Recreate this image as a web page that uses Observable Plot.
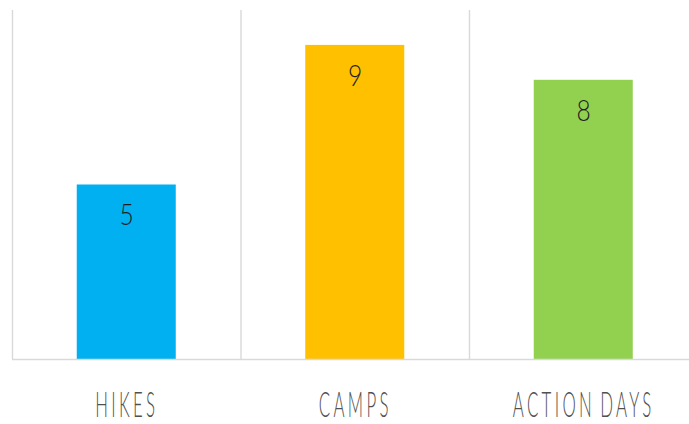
<!DOCTYPE html>
<html>
<head>
<meta charset="utf-8">
<script src="https://cdn.jsdelivr.net/npm/d3@7"></script>
<script src="https://cdn.jsdelivr.net/npm/@observablehq/plot@0.6"></script>
<style>
  html, body { margin: 0; padding: 0; background: #fff; overflow: hidden; }
  #chart svg { display: block; max-width: none !important; }
</style>
</head>
<body>
<div id="chart"></div>
<script>
const categories = ["HIKES", "CAMPS", "ACTION DAYS"];
const values = [5, 9, 8];
const colors = ["#00B0F0", "#FFC000", "#92D050"];
const boundaries = [0, 1, 2, 3];

const data = categories.map((c, i) => ({ i, category: c, value: values[i], color: colors[i] }));

const plot = Plot.plot({
  width: 698,
  height: 424,
  marginLeft: 12,
  marginRight: 0.5,
  marginTop: 10,
  marginBottom: 65,
  style: { background: "#fff", overflow: "visible", maxWidth: "none" },
  x: { type: "linear", domain: [0, 3], axis: null },
  y: { domain: [0, 10], axis: null },
  marks: [
    Plot.ruleX(boundaries, { stroke: "#d9d9d9", strokeWidth: 1.4 }),
    Plot.rectY(data, {
      x1: "i",
      x2: d => d.i + 1,
      y1: 0,
      y2: "value",
      fill: "color",
      insetLeft: 64.75,
      insetRight: 64.75
    }),
    Plot.ruleY([0], { stroke: "#d9d9d9", strokeWidth: 1.6 }),
    Plot.text(data, {
      x: d => d.i + 0.5,
      y: "value",
      text: d => String(d.value),
      lineAnchor: "top",
      dy: 19,
      fontSize: 30,
      fontFamily: "Lato, 'DejaVu Sans', sans-serif",
      fontWeight: 300,
      fill: "#1f1f1f"
    }),
    Plot.text(data, {
      x: d => d.i + 0.5,
      y: 0,
      text: "category",
      lineAnchor: "top",
      dy: 33,
      fontSize: 35,
      fontFamily: "Lato, 'DejaVu Sans', sans-serif",
      fontWeight: 300,
      fill: "#505050"
    })
  ]
});

const catSet = new Set(categories);
const valSet = new Set(values.map(String));
d3.select(plot).selectAll("text").each(function () {
  const s = this.textContent;
  const t = this.getAttribute("transform") || "";
  if (catSet.has(s)) {
    this.setAttribute("transform", t + " scale(0.48,1)");
    this.style.letterSpacing = "7px";
    this.style.wordSpacing = "-6px";
  } else if (valSet.has(s)) {
    this.setAttribute("transform", t + " scale(0.82,1)");
  }
});

document.getElementById("chart").appendChild(plot);
</script>
</body>
</html>
